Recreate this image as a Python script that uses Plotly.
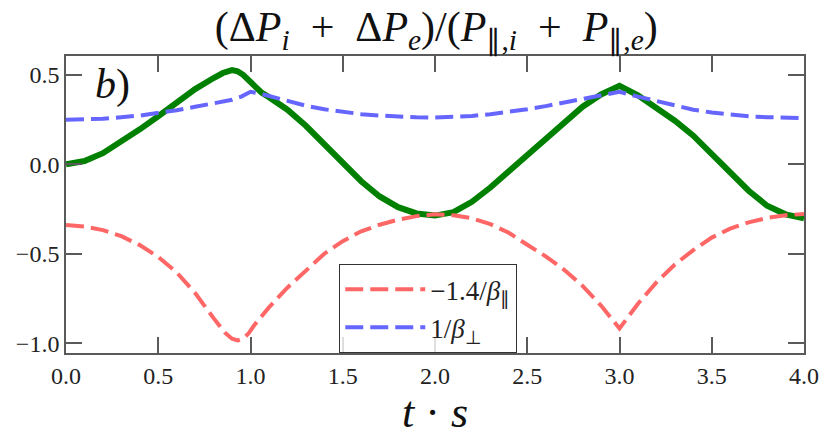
import plotly.graph_objects as go

# ---- data ----
t_green = [0.0, 0.1, 0.2, 0.3, 0.4, 0.5, 0.6, 0.7, 0.8, 0.85, 0.9, 0.93, 0.96, 0.99, 1.01, 1.03,
           1.06, 1.1, 1.2, 1.3, 1.4, 1.5, 1.6, 1.7, 1.8, 1.9, 2.0, 2.1, 2.2, 2.3, 2.4, 2.5,
           2.6, 2.7, 2.8, 2.9, 3.0, 3.1, 3.2, 3.3, 3.4, 3.5, 3.6, 3.7, 3.8, 3.9, 4.0]
y_green = [0.0, 0.018, 0.062, 0.125, 0.195, 0.268, 0.345, 0.42, 0.482, 0.51, 0.526, 0.52, 0.5, 0.47, 0.45, 0.425,
           0.40, 0.375, 0.305, 0.215, 0.11, 0.005, -0.095, -0.18, -0.24, -0.275, -0.287, -0.268, -0.21, -0.13, -0.038, 0.055,
           0.148, 0.238, 0.322, 0.39, 0.438, 0.385, 0.318, 0.243, 0.16, 0.06, -0.045, -0.148, -0.232, -0.28, -0.302]

t_blue = [0.0, 0.2, 0.4, 0.5, 0.6, 0.7, 0.8, 0.9, 0.95, 1.0, 1.05, 1.1, 1.2, 1.3, 1.4, 1.5, 1.6, 1.7, 1.8, 1.9,
          2.0, 2.1, 2.2, 2.3, 2.4, 2.5, 2.6, 2.7, 2.8, 2.9, 3.0, 3.1, 3.2, 3.3, 3.4, 3.5, 3.6, 3.7, 3.8, 3.9, 4.0]
y_blue = [0.249, 0.254, 0.272, 0.286, 0.302, 0.321, 0.340, 0.360, 0.378, 0.405, 0.395, 0.382, 0.353, 0.327, 0.307,
          0.292, 0.280, 0.272, 0.266, 0.262, 0.261, 0.263, 0.270, 0.280, 0.292, 0.307, 0.325, 0.345, 0.370, 0.390,
          0.405, 0.378, 0.352, 0.327, 0.305, 0.289, 0.277, 0.268, 0.263, 0.260, 0.258]

t_red = [0.0, 0.1, 0.2, 0.3, 0.4, 0.5, 0.6, 0.7, 0.8, 0.86, 0.9, 0.93, 0.96, 0.99, 1.02, 1.05, 1.1, 1.2, 1.3,
         1.4, 1.5, 1.6, 1.7, 1.8, 1.9, 2.0, 2.1, 2.2, 2.3, 2.4, 2.5, 2.6, 2.7, 2.8, 2.9, 3.0, 3.1, 3.2, 3.3,
         3.4, 3.5, 3.6, 3.7, 3.8, 3.9, 4.0]
y_red = [-0.340, -0.348, -0.368, -0.402, -0.452, -0.518, -0.605, -0.72, -0.86, -0.94, -0.975, -0.985, -0.975,
         -0.945, -0.9, -0.86, -0.8, -0.69, -0.595, -0.5, -0.43, -0.375, -0.338, -0.31, -0.29, -0.28, -0.285,
         -0.302, -0.335, -0.383, -0.45, -0.515, -0.59, -0.68, -0.79, -0.918, -0.78, -0.66, -0.56, -0.48, -0.41,
         -0.36, -0.325, -0.3, -0.285, -0.278]

x_ticks = [0.0, 0.5, 1.0, 1.5, 2.0, 2.5, 3.0, 3.5, 4.0]
y_ticks = [-1.0, -0.5, 0.0, 0.5]

label_red = "−1.4/<i>β</i><sub>∥</sub>"
label_blue = "1/<i>β</i><sub>⊥</sub>"
SP = "\u2002"
title_text = ("(Δ<i>P</i><sub><i>i</i></sub>" + SP + "+" + SP + "Δ<i>P</i><sub><i>e</i></sub>)/"
              "(<i>P</i><sub>∥,<i>i</i></sub>" + SP + "+" + SP + "<i>P</i><sub>∥,<i>e</i></sub>)")
xlabel = "<i>t</i> · <i>s</i>"
panel = "<i>b</i>)"

SERIF = "Liberation Serif"
AXC = "#5a5a5a"

axis_common = dict(showline=True, linecolor=AXC, linewidth=1.6, mirror="allticks",
                   ticks="inside", ticklen=16, tickcolor=AXC, tickwidth=2,
                   showgrid=False, zeroline=False,
                   tickfont=dict(family=SERIF, size=24, color="#222222"))

fig = go.Figure()
fig.add_trace(go.Scatter(x=t_green, y=y_green, mode="lines", showlegend=False,
                         line=dict(color="#008000", width=6)))
fig.add_trace(go.Scatter(x=t_red, y=y_red, mode="lines", name=label_red,
                         line=dict(color="#ff6666", width=4, dash="18px,7px")))
fig.add_trace(go.Scatter(x=t_blue, y=y_blue, mode="lines", name=label_blue,
                         line=dict(color="#6666ff", width=4, dash="18px,7px")))

fig.update_xaxes(range=[0, 4.0], tickmode="array", tickvals=x_ticks, tickformat=".1f",
                 title=dict(text=xlabel, font=dict(family=SERIF, size=44, color="#111111"), standoff=6),
                 **axis_common)
fig.update_yaxes(range=[-1.055, 0.605], tickmode="array", tickvals=y_ticks, tickformat=".1f",
                 **axis_common)

fig.add_annotation(text=panel, xref="paper", yref="paper", x=0.036, y=0.99,
                   showarrow=False, font=dict(family=SERIF, size=42, color="#111111"))

fig.update_layout(
    width=831, height=437,
    margin=dict(l=66, r=25, t=56, b=80),
    paper_bgcolor="white", plot_bgcolor="white",
    title=dict(text=title_text, x=0.525, xanchor="center", y=0.94, yanchor="middle",
               font=dict(family=SERIF, size=42, color="#111111")),
    legend=dict(x=0.37, y=0.0, xanchor="left", yanchor="bottom",
                bgcolor="rgba(255,255,255,0.8)", bordercolor="#333333", borderwidth=1.2,
                font=dict(family=SERIF, size=27, color="#222222"), itemwidth=80),
)

fig.write_html("out.html", config={"displayModeBar": False},
               post_script="document.body.style.margin='0';document.body.style.padding='0';")
